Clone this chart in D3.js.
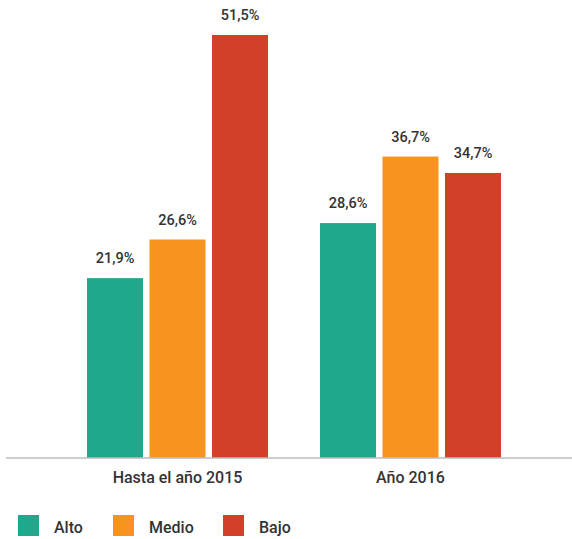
<!DOCTYPE html>
<html>
<head>
<meta charset="utf-8">
<script src="https://cdn.jsdelivr.net/npm/d3@7"></script>
<style>
  html, body { margin: 0; padding: 0; background: #fff; }
  svg { display: block; }
  text { font-family: Roboto, "DejaVu Sans", sans-serif; fill: #333; }
</style>
</head>
<body>
<svg id="chart" width="572" height="539"></svg>
<script>
const groups = ["Hasta el año 2015", "Año 2016"];
const series = ["Alto", "Medio", "Bajo"];
const alto = [21.9, 28.6];
const medio = [26.6, 36.7];
const bajo = [51.5, 34.7];
const colors = ["#20a88c", "#f7931e", "#d2402a"];

const values = [alto, medio, bajo];
const data = groups.map((g, gi) => ({
  group: g,
  items: series.map((s, si) => ({ series: s, value: values[si][gi], color: colors[si] }))
}));

const fmt = v => d3.format(".1f")(v).replace(".", ",") + "%";

const svg = d3.select("#chart");
const baseY = 458;

const x0 = d3.scaleBand().domain(groups).range([61, 527]).padding(0);
const x1 = d3.scaleBand().domain(series).range([-90.5, 90.5]).paddingInner(0.104).paddingOuter(0);
const y = d3.scaleLinear().domain([0, 51.5]).range([baseY, 35]);

const g = svg.selectAll("g.grp").data(data).enter().append("g")
  .attr("class", "grp")
  .attr("transform", d => `translate(${x0(d.group) + x0.bandwidth() / 2},0)`);

g.selectAll("rect").data(d => d.items).enter().append("rect")
  .attr("x", d => x1(d.series))
  .attr("y", d => y(d.value))
  .attr("width", x1.bandwidth())
  .attr("height", d => baseY - y(d.value))
  .attr("fill", d => d.color);

g.selectAll("text.val").data(d => d.items).enter().append("text")
  .attr("class", "val")
  .attr("x", d => x1(d.series) + x1.bandwidth() / 2)
  .attr("y", d => y(d.value) - 15)
  .attr("text-anchor", "middle")
  .attr("font-size", 14.5)
  .attr("font-weight", 500)
  .text(d => fmt(d.value));

// axis
const axis = d3.axisBottom(x0).tickSize(0).tickPadding(14);
const ax = svg.append("g").attr("transform", `translate(0,${baseY})`).call(axis);
ax.select(".domain").attr("d", "M6,0H572").attr("stroke", "#bdbdbd").attr("stroke-width", 1.5);
ax.selectAll(".tick text")
  .attr("font-size", 16)
  .attr("font-weight", 500)
  .attr("font-family", "Roboto, sans-serif")
  .attr("fill", "#333")
  .attr("dy", "0.71em");

// legend
const legX = [18, 113, 223];
const leg = svg.selectAll("g.leg").data(series).enter().append("g")
  .attr("class", "leg")
  .attr("transform", (d, i) => `translate(${legX[i]},515)`);
leg.append("rect").attr("width", 21).attr("height", 21).attr("fill", (d, i) => colors[i]);
leg.append("text").attr("x", 36).attr("y", 18).attr("font-size", 16).attr("font-weight", 500).text(d => d);
</script>
</body>
</html>
